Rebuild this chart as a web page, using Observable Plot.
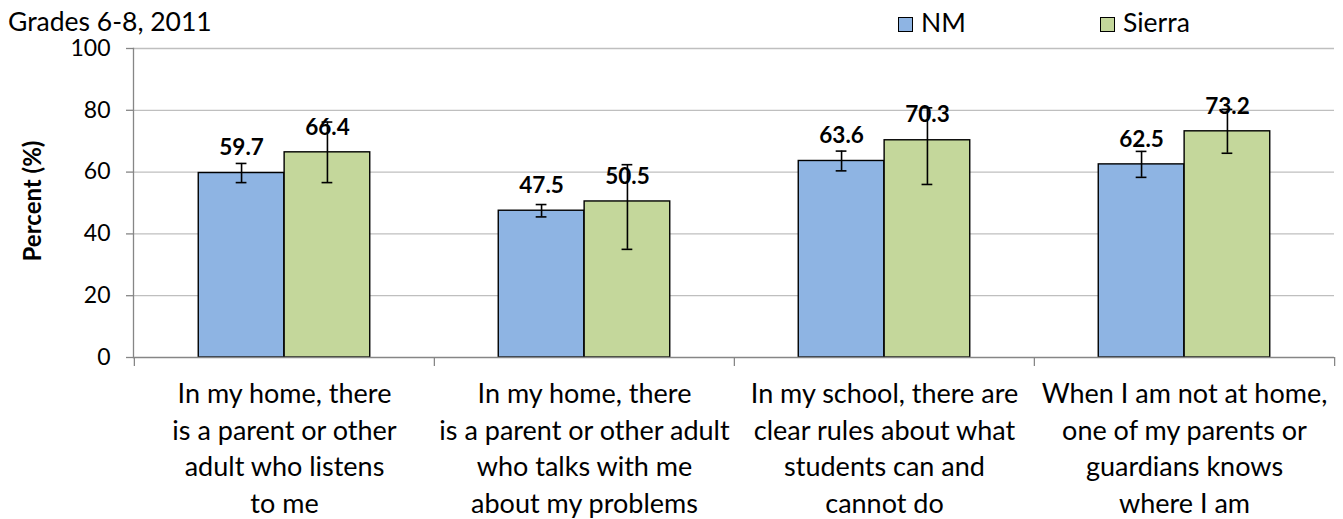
<!DOCTYPE html>
<html>
<head>
<meta charset="utf-8">
<script src="https://cdn.jsdelivr.net/npm/d3@7"></script>
<script src="https://cdn.jsdelivr.net/npm/@observablehq/plot@0.6"></script>
<style>
  html, body { margin: 0; padding: 0; background: #fff; }
  body { font-family: Lato, "Open Sans", sans-serif; color: #000; }
  #wrap { position: relative; width: 1343px; height: 519px; overflow: hidden; }
  #title { position: absolute; left: 8px; top: 10px; font-size: 26.5px; line-height: 23px; white-space: nowrap; }
  .leg { position: absolute; top: 9px; font-size: 26.5px; line-height: 26px; white-space: nowrap; }
  .sw { display: inline-block; width: 13px; height: 13px; border: 1.5px solid #000; vertical-align: 0px; margin-right: 8px; }
  #ylabel { position: absolute; left: 32px; top: 201px; transform: translate(-50%, -50%) rotate(-90deg); font-size: 24px; line-height: 26px; font-weight: bold; white-space: nowrap; }
  #chart { position: absolute; left: 0; top: 30px; }
</style>
</head>
<body>
<div id="wrap">
  <div id="chart"></div>
  <div id="title">Grades 6-8, 2011</div>
  <div class="leg" style="left:898px"><span class="sw" style="background:#8EB4E3"></span>NM</div>
  <div class="leg" style="left:1100px"><span class="sw" style="background:#C4D79B"></span>Sierra</div>
  <div id="ylabel">Percent (%)</div>
</div>
<script>
const categories = [
  "In my home, there\nis a parent or other\nadult who listens\nto me",
  "In my home, there\nis a parent or other adult\nwho talks with me\nabout my problems",
  "In my school, there are\nclear rules about what\nstudents can and\ncannot do",
  "When I am not at home,\none of my parents or\nguardians knows\nwhere I am"
];
const seriesNames = ["NM", "Sierra"];
const nmValues = [59.7, 47.5, 63.6, 62.5];
const nmLow = [56.6, 45.5, 60.4, 58.3];
const nmHigh = [62.8, 49.5, 66.8, 66.7];
const sierraValues = [66.4, 50.5, 70.3, 73.2];
const sierraLow = [56.6, 35.0, 56.0, 66.1];
const sierraHigh = [76.2, 62.4, 80.8, 80.3];
const yTicks = [0, 20, 40, 60, 80, 100];
const colors = ["#8EB4E3", "#C4D79B"];

const nmRows = categories.map((c, i) => ({cat: c, series: "NM", value: nmValues[i], lo: nmLow[i], hi: nmHigh[i]}));
const sierraRows = categories.map((c, i) => ({cat: c, series: "Sierra", value: sierraValues[i], lo: sierraLow[i], hi: sierraHigh[i]}));

const width = 1343, height = 489;
const marginLeft = 133, marginRight = 9, marginTop = 18, marginBottom = 162;
const bw = (width - marginLeft - marginRight) / categories.length; // band width
const outer = 0.214 * bw;          // empty space at each side of a group
const barW = bw / 2 - outer;       // width of one bar
const off = barW / 2;              // offset of a bar centre from band centre
const capH = 5.5;                  // half cap width

const barOpts = (left) => ({
  x: "cat", y: "value", fill: "series",
  stroke: "#000", strokeWidth: 1.4,
  insetLeft: left ? outer : bw / 2,
  insetRight: left ? bw / 2 : outer
});
const capOpts = (left, key) => ({
  x: "cat", y: key, stroke: "#000", strokeWidth: 1.6,
  insetLeft: left ? outer + off - capH : bw / 2 + off - capH,
  insetRight: left ? bw / 2 + off - capH : outer + off - capH
});

const plot = Plot.plot({
  width, height, marginLeft, marginRight, marginTop, marginBottom,
  style: {fontFamily: "Lato, 'Open Sans', sans-serif", color: "#000", background: "#fff", overflow: "visible"},
  x: {domain: categories, padding: 0, axis: null},
  y: {domain: [0, 100], axis: null},
  color: {domain: seriesNames, range: colors},
  marks: [
    Plot.ruleY(yTicks.filter(d => d > 0), {stroke: "#BFBFBF", strokeWidth: 1.3}),
    Plot.axisY({ticks: yTicks, tickSize: 7, tickPadding: 16, fontSize: 23, stroke: "#868686", strokeWidth: 1.3, fill: "#000", label: null}),
    Plot.barY(nmRows, barOpts(true)),
    Plot.barY(sierraRows, barOpts(false)),
    Plot.ruleX(nmRows, {x: "cat", y1: "lo", y2: "hi", dx: -off, stroke: "#000", strokeWidth: 1.6}),
    Plot.ruleX(sierraRows, {x: "cat", y1: "lo", y2: "hi", dx: off, stroke: "#000", strokeWidth: 1.6}),
    Plot.tickY(nmRows, capOpts(true, "lo")),
    Plot.tickY(nmRows, capOpts(true, "hi")),
    Plot.tickY(sierraRows, capOpts(false, "lo")),
    Plot.tickY(sierraRows, capOpts(false, "hi")),
    Plot.text(nmRows, {x: "cat", y: "value", text: d => d.value.toFixed(1), dx: -off, dy: -25, fontSize: 22.5, fontWeight: "bold", fill: "#000"}),
    Plot.text(sierraRows, {x: "cat", y: "value", text: d => d.value.toFixed(1), dx: off, dy: -25, fontSize: 22.5, fontWeight: "bold", fill: "#000"}),
    Plot.ruleY([0], {stroke: "#868686", strokeWidth: 1.3}),
    Plot.frame({anchor: "left", stroke: "#868686", strokeWidth: 1.3}),
    Plot.ruleX(categories, {x: d => d, y1: 0, y2: 0, insetBottom: -9, dx: -bw / 2, stroke: "#868686", strokeWidth: 1.3}),
    Plot.ruleX(categories.slice(-1), {x: d => d, y1: 0, y2: 0, insetBottom: -9, dx: bw / 2, stroke: "#868686", strokeWidth: 1.3}),
    Plot.text(categories, {x: d => d, text: d => d, frameAnchor: "bottom", lineAnchor: "top", dy: 20, lineHeight: 1.35, fontSize: 27, fill: "#000"})
  ]
});
document.getElementById("chart").appendChild(plot);
</script>
</body>
</html>
